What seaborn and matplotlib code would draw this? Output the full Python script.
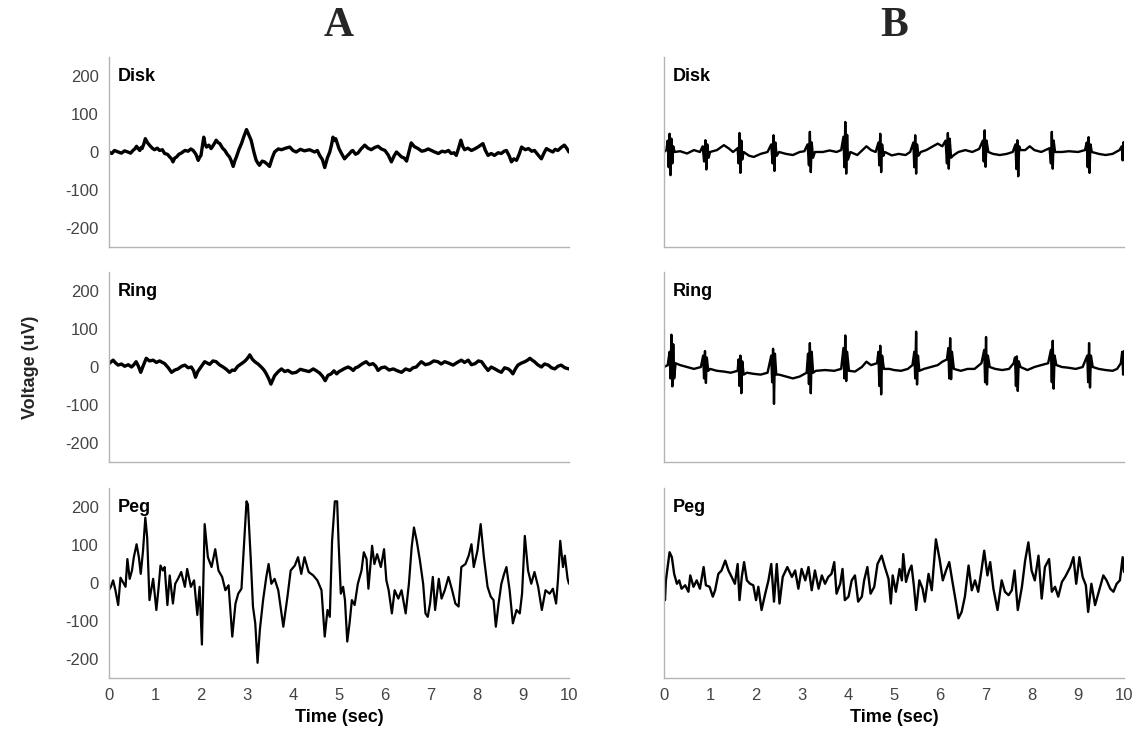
import matplotlib
matplotlib.use("Agg")
import matplotlib.pyplot as plt
import seaborn as sns
import numpy as np
import pandas as pd

# --- data (time in sec, voltage in uV) ---

a_disk_t = [0, .06, .12, .2, .27, .34, .41, .47, .52, .56, .6, .64, .67, .7, .72, .76, .79, .84, .88, .94,
            .99, 1.05, 1.1, 1.16, 1.21, 1.27, 1.32, 1.36, 1.39, 1.43, 1.47, 1.52, 1.57, 1.65, 1.72, 1.78,
            1.83, 1.89, 1.94, 1.97, 2.0, 2.03, 2.06, 2.09, 2.12, 2.17, 2.22, 2.28, 2.33, 2.37, 2.41, 2.47,
            2.52, 2.57, 2.62, 2.66, 2.7, 2.74, 2.77, 2.83, 2.88, 2.93, 2.99, 3.04, 3.09, 3.15, 3.2, 3.24,
            3.27, 3.33, 3.38, 3.44, 3.49, 3.55, 3.6, 3.68, 3.75, 3.84, 3.93, 4.0, 4.07, 4.16, 4.25, 4.36,
            4.47, 4.53, 4.58, 4.64, 4.69, 4.75, 4.8, 4.84, 4.87, 4.9, 4.93, 4.97, 5.0, 5.06, 5.12, 5.18,
            5.23, 5.27, 5.3, 5.36, 5.41, 5.48, 5.56, 5.63, 5.7, 5.78, 5.85, 5.92, 6.0, 6.07, 6.14, 6.2,
            6.25, 6.3, 6.36, 6.42, 6.47, 6.52, 6.57, 6.64, 6.72, 6.8, 6.87, 6.94, 7.01, 7.08, 7.16, 7.24,
            7.31, 7.38, 7.44, 7.5, 7.55, 7.6, 7.65, 7.69, 7.73, 7.8, 7.88, 7.95, 8.02, 8.08, 8.13, 8.18,
            8.24, 8.31, 8.38, 8.46, 8.53, 8.59, 8.64, 8.7, 8.75, 8.8, 8.86, 8.92, 8.97, 9.05, 9.12, 9.19,
            9.25, 9.33, 9.4, 9.46, 9.51, 9.58, 9.65, 9.7, 9.76, 9.83, 9.9, 9.95, 10.0]
a_disk_v = [0, -4, 4, 0, -3, 3, 0, -3, 4, 8, 15, 8, 4, 12, 9, 22, 35, 24, 18, 10,
            6, 10, 4, 6, -4, -6, -13, -18, -26, -16, -13, -6, -3, 4, 2, 8,
            4, -6, -22, -14, -9, 15, 39, 20, 13, 18, 9, 20, 31, 25, 22, 10,
            4, -6, -13, -24, -38, -22, -13, 8, 22, 40, 59, 45, 31, 0, -22, -30,
            -35, -24, -26, -32, -38, -15, 0, 8, 6, 10, 13, 4, 0, 7, 3, 6,
            0, 4, -9, -20, -41, -15, 0, 20, 39, 30, 35, 20, 9, -5, -18, -10,
            -4, 2, 4, -6, -3, 8, 18, 10, 6, 12, 15, 8, 4, -8, -26, -10,
            0, -6, -13, -16, -24, 0, 24, 14, 9, 2, 4, 8, 4, 0, -4, 2,
            0, 4, -4, -2, -9, 10, 31, 15, 6, 10, 4, 8, 13, 18, 22, 5,
            -9, -4, -9, -2, -4, 2, 4, -10, -26, -18, -22, -5, 13, 6, 9, 2,
            4, -8, -18, -2, 9, 4, 0, 7, 4, 12, 18, 10, 0]

a_ring_t = [0, .05, .09, .15, .2, .27, .34, .42, .49, .54, .59, .64, .69, .75, .81, .88, .96, 1.03, 1.1,
            1.16, 1.21, 1.29, 1.36, 1.43, 1.5, 1.58, 1.65, 1.72, 1.79, 1.84, 1.88, 1.93, 1.97, 2.03, 2.08,
            2.14, 2.19, 2.26, 2.33, 2.4, 2.48, 2.55, 2.62, 2.68, 2.73, 2.8, 2.88, 2.94, 2.99, 3.03, 3.06,
            3.12, 3.17, 3.24, 3.31, 3.37, 3.42, 3.47, 3.52, 3.56, 3.6, 3.68, 3.75, 3.82, 3.89, 3.98, 4.07,
            4.16, 4.25, 4.35, 4.44, 4.51, 4.58, 4.64, 4.7, 4.76, 4.83, 4.89, 4.95, 5.0, 5.05, 5.12, 5.2,
            5.26, 5.31, 5.36, 5.41, 5.5, 5.59, 5.66, 5.74, 5.8, 5.85, 5.92, 6.0, 6.09, 6.18, 6.27, 6.36,
            6.45, 6.54, 6.61, 6.68, 6.74, 6.79, 6.88, 6.97, 7.06, 7.15, 7.22, 7.3, 7.39, 7.48, 7.57, 7.66,
            7.73, 7.81, 7.88, 7.96, 8.03, 8.1, 8.17, 8.24, 8.31, 8.39, 8.46, 8.53, 8.6, 8.68, 8.73, 8.78,
            8.84, 8.89, 8.96, 9.04, 9.1, 9.15, 9.2, 9.25, 9.32, 9.4, 9.47, 9.55, 9.62, 9.69, 9.76, 9.83,
            9.91, 10.0]
a_ring_v = [9, 14, 18, 10, 5, 8, 2, 6, 0, 6, 14, 2, -14, 5, 23, 16, 18, 12, 16,
            12, 9, -2, -14, -8, -5, 2, 5, -2, 0, -10, -27, -12, -5, 6, 14,
            10, 7, 16, 14, 6, 0, -6, -14, -8, -9, 2, 9, 14, 20, 26, 32,
            20, 14, 8, 0, -8, -18, -30, -45, -34, -23, -12, -5, -12, -9, -16, -14,
            -6, -9, -12, -5, -10, -16, -24, -36, -22, -18, -10, -18, -12, -9, -4, 0,
            -4, -9, -2, 0, 8, 14, 6, 9, 2, -9, -2, 0, -8, -5, -10, -14,
            -5, -9, -2, 0, 8, 14, 6, 9, 16, 14, 8, 14, 10, 5, 12, 18,
            12, 18, 6, 9, 16, 14, 2, -9, 0, -5, -10, -14, -2, -5, -10, -18,
            -4, 5, 10, 14, 18, 23, 18, 14, 6, 0, 8, 5, -2, -5, 2, 5,
            -2, -5]

a_peg_t = [0, .04, .09, .14, .2, .25, .3, .36, .4, .45, .5, .54, .6, .65, .69, .74, .79, .83, .88, .96, 1.03,
           1.08, 1.12, 1.17, 1.21, 1.27, 1.32, 1.39, 1.44, 1.5, 1.57, 1.65, 1.7, 1.78, 1.85, 1.92, 1.97, 2.02,
           2.08, 2.15, 2.23, 2.31, 2.38, 2.46, 2.53, 2.6, 2.68, 2.75, 2.81, 2.88, 2.94, 2.99, 3.02, 3.08, 3.13,
           3.18, 3.23, 3.28, 3.35, 3.42, 3.47, 3.53, 3.6, 3.68, 3.79, 3.88, 3.95, 4.04, 4.11, 4.18, 4.25, 4.34,
           4.44, 4.53, 4.62, 4.69, 4.75, 4.8, 4.85, 4.91, 4.96, 4.99, 5.04, 5.09, 5.13, 5.18, 5.23, 5.28, 5.34,
           5.41, 5.49, 5.54, 5.6, 5.64, 5.72, 5.77, 5.83, 5.91, 5.98, 6.03, 6.08, 6.15, 6.21, 6.29, 6.36, 6.45,
           6.52, 6.58, 6.63, 6.69, 6.76, 6.83, 6.88, 6.93, 6.98, 7.04, 7.09, 7.17, 7.23, 7.3, 7.38, 7.46, 7.53,
           7.6, 7.66, 7.75, 7.82, 7.88, 7.93, 8.01, 8.08, 8.15, 8.23, 8.3, 8.36, 8.41, 8.47, 8.53, 8.59, 8.64,
           8.71, 8.78, 8.86, 8.93, 8.98, 9.04, 9.11, 9.18, 9.25, 9.33, 9.41, 9.49, 9.58, 9.65, 9.72, 9.76, 9.81,
           9.87, 9.91, 9.97, 10.0]
a_peg_v = [-19, -10, 7, -19, -58, 14, 3, -10, 63, 11, 33, 68, 102, 68, 24, 85, 172, 120, -45, 11, -71,
           -10, 46, 33, 42, -58, 20, -54, -2, 11, 29, -10, 37, -10, 7, -84, -10, -162,
           155, 68, 42, 89, 33, 16, -19, -6, -141, -54, -28, -15, 111, 215, 207, 68, -62,
           -106, -210, -123, -45, 16, 50, -2, 11, -19, -115, -36, 33, 46, 68, 24, 68, 29,
           20, 7, -19, -141, -71, -89, 111, 215, 215, 111, -28, -10, -45, -154, -106, -45, -58,
           -2, 33, 81, 63, -15, 98, 50, 76, 42, 89, 7, -19, -80, -19, -41, -19, -80,
           -2, 94, 146, 111, 59, -2, -80, -89, -54, 16, -71, 11, -41, -19, 16, -19, -54,
           -62, 42, 50, 72, 102, 42, 85, 155, 68, -10, -36, -45, -115, -54, -2, 24, 42,
           -19, -106, -71, -80, -28, 124, 33, -2, 29, -10, -71, -19, -28, -15, -54, 7, 111,
           42, 72, 11, -2]

b_disk_t = [0, .05, .08, .1, .12, .14, .16, .18, .2, .23, .35, .5, .65, .78, .84, .87, .9, .92, .94, .97, 1.0,
            1.15, 1.3, 1.4, 1.5, 1.6, 1.62, 1.64, 1.66, 1.68, 1.7, 1.73, 1.85, 1.95, 2.1, 2.25, 2.33, 2.36,
            2.38, 2.4, 2.42, 2.45, 2.5, 2.65, 2.8, 2.95, 3.05, 3.12, 3.15, 3.17, 3.19, 3.21, 3.24, 3.28, 3.45,
            3.6, 3.75, 3.85, 3.9, 3.92, 3.94, 3.96, 3.98, 4.0, 4.05, 4.2, 4.4, 4.5, 4.6, 4.66, 4.68, 4.7, 4.72,
            4.74, 4.77, 4.8, 4.95, 5.1, 5.25, 5.35, 5.42, 5.44, 5.46, 5.48, 5.5, 5.53, 5.58, 5.7, 5.85, 5.95,
            6.05, 6.12, 6.15, 6.17, 6.19, 6.21, 6.24, 6.3, 6.4, 6.55, 6.7, 6.85, 6.93, 6.95, 6.97, 6.99, 7.01,
            7.05, 7.15, 7.3, 7.45, 7.58, 7.64, 7.66, 7.68, 7.7, 7.72, 7.75, 7.85, 7.95, 8.05, 8.2, 8.38, 8.41,
            8.43, 8.45, 8.47, 8.5, 8.65, 8.8, 9.0, 9.15, 9.19, 9.21, 9.23, 9.25, 9.27, 9.3, 9.45, 9.6, 9.75,
            9.9, 9.95, 9.97, 9.99, 10.0]
b_disk_v = [0, 5, 30, -40, 48, -61, 35, -30, 15, 0, 2, -4, 5, 0, 15, -25, 31, -46, 20, -15, 0,
            5, 18, 10, 0, 10, -30, 50, -55, 30, -20, 0, -10, -13, -5, 0, 20, -30,
            44, -50, 25, -10, 0, -5, -8, 0, 2, 20, -35, 53, -53, 25, -15, 0, 0,
            4, 0, 5, 40, -40, 79, -57, 45, -20, 0, -8, 15, 5, 0, 25, -35, 48, -53,
            20, -10, 0, -9, -5, -8, 0, 25, -40, 44, -57, 20, -10, 0, 5, 15, 22,
            15, 30, -30, 50, -44, 35, -15, -8, 0, 5, 0, 8, 30, -25, 57, -39, 30,
            0, -5, -8, -5, 0, 20, -45, 31, -64, 15, 5, 5, 15, 5, 0, 10, -30,
            53, -44, 30, 0, 0, 2, 0, 5, 25, -40, 39, -55, 20, 0, -5, -8, -5,
            5, 15, -22, 26, 10]

b_ring_t = [0, .08, .12, .14, .16, .18, .2, .22, .25, .35, .5, .65, .8, .85, .87, .89, .91, .93, .96, 1.0,
            1.15, 1.3, 1.45, 1.6, 1.62, 1.64, 1.66, 1.68, 1.7, 1.73, 1.8, 1.95, 2.1, 2.25, 2.33, 2.35, 2.37,
            2.39, 2.41, 2.44, 2.5, 2.65, 2.8, 2.95, 3.1, 3.13, 3.15, 3.17, 3.19, 3.21, 3.24, 3.3, 3.5, 3.7,
            3.85, 3.9, 3.92, 3.94, 3.96, 3.98, 4.02, 4.15, 4.3, 4.4, 4.5, 4.63, 4.66, 4.68, 4.7, 4.72, 4.74,
            4.78, 4.9, 5.0, 5.15, 5.3, 5.4, 5.44, 5.46, 5.48, 5.5, 5.52, 5.55, 5.65, 5.8, 5.95, 6.05, 6.15,
            6.18, 6.2, 6.22, 6.24, 6.26, 6.3, 6.45, 6.6, 6.75, 6.9, 6.96, 6.98, 7.0, 7.02, 7.04, 7.08, 7.2,
            7.35, 7.5, 7.6, 7.63, 7.65, 7.67, 7.69, 7.71, 7.75, 7.9, 8.05, 8.2, 8.35, 8.41, 8.43, 8.45, 8.47,
            8.49, 8.53, 8.65, 8.8, 8.95, 9.1, 9.2, 9.22, 9.24, 9.26, 9.28, 9.32, 9.45, 9.6, 9.75, 9.85, 9.93,
            9.96, 9.98, 10.0]
b_ring_v = [0, 5, 40, -30, 85, -51, 60, -30, 10, 5, 0, -5, 0, 30, -30, 42, -42, 25, -10, -5,
            -10, -12, -15, -10, 20, -50, 30, -69, 15, -20, -15, -18, -20, -15, 30, -40, 48,
            -97, 35, -20, -20, -25, -30, -25, -15, 35, -45, 63, -69, 40, -15, -10, -8, -10,
            -5, 50, -30, 83, -37, 40, -10, -12, 0, 14, 5, 10, 40, -50, 56, -72, 30,
            -5, -5, -8, -10, -5, 5, 40, -30, 93, -46, 30, -10, -5, 0, 5, 14, 20,
            50, -30, 76, -32, 40, -5, -10, -5, -5, 10, 45, -40, 79, -46, 30, 0, -5,
            -8, -5, 10, 25, -50, 28, -63, 15, 0, -8, 0, 5, 10, 45, -40, 69, -57,
            30, 5, 0, -2, -5, 0, 30, -40, 63, -54, 30, 0, -5, -8, -10, -5, 10,
            40, -20, 42]

b_peg_t = [0, .02, .04, .12, .17, .22, .28, .33, .38, .46, .53, .57, .64, .71, .78, .86, .91, .99, 1.06, 1.11,
           1.18, 1.25, 1.33, 1.4, 1.47, 1.54, 1.6, 1.64, 1.69, 1.74, 1.8, 1.87, 1.94, 2.0, 2.05, 2.12, 2.2,
           2.27, 2.33, 2.39, 2.45, 2.51, 2.58, 2.68, 2.78, 2.85, 2.92, 2.99, 3.07, 3.14, 3.21, 3.28, 3.36,
           3.43, 3.5, 3.57, 3.64, 3.7, 3.75, 3.83, 3.88, 3.93, 4.01, 4.08, 4.15, 4.22, 4.3, 4.35, 4.42, 4.49,
           4.57, 4.64, 4.73, 4.8, 4.88, 4.93, 4.97, 5.04, 5.12, 5.17, 5.2, 5.26, 5.33, 5.38, 5.43, 5.48, 5.55,
           5.62, 5.67, 5.75, 5.82, 5.91, 5.99, 6.06, 6.13, 6.2, 6.27, 6.35, 6.4, 6.47, 6.54, 6.62, 6.69, 6.76,
           6.83, 6.9, 6.96, 7.03, 7.09, 7.16, 7.25, 7.34, 7.41, 7.49, 7.56, 7.62, 7.69, 7.78, 7.85, 7.92, 7.99,
           8.06, 8.14, 8.21, 8.28, 8.37, 8.43, 8.5, 8.57, 8.65, 8.72, 8.83, 8.9, 8.96, 9.03, 9.1, 9.17, 9.22,
           9.29, 9.37, 9.46, 9.55, 9.62, 9.7, 9.77, 9.84, 9.91, 9.97, 10.0]
b_peg_v = [-2, -45, 7, 81, 68, 24, -2, 7, -15, -6, -23, 20, -10, 7, -15, 42, -6, -10, -36, -19,
           24, 33, 59, 33, 16, -2, 50, -45, 16, 55, 7, -2, -6, -45, -10, -71, -28,
           7, 50, -49, 50, -54, 16, 42, 16, 33, -15, 37, 7, 42, -19, 33, -15,
           20, -2, 16, 24, 55, -28, -2, 37, -45, -36, 7, 20, -49, -36, 7, 42, -28,
           -10, 50, 72, 42, 11, -54, 20, -23, 37, 7, 76, 3, 33, 46, -6, -71, 7,
           -15, -49, 24, -19, 115, 63, 7, 33, 55, 3, -54, -93, -76, -36, 46, -19, 7,
           -23, 33, 85, 20, 55, -15, -71, 7, -23, -32, -19, 33, -71, -10, 59, 107, 33,
           7, 72, -41, 42, 63, -23, -10, -36, 3, 16, 42, 68, -2, 68, 16, -6, -76,
           -2, -58, -19, 20, 7, -15, -23, -2, 7, 68, 29]

traces = [
    ("Disk", a_disk_t, a_disk_v, b_disk_t, b_disk_v),
    ("Ring", a_ring_t, a_ring_v, b_ring_t, b_ring_v),
    ("Peg", a_peg_t, a_peg_v, b_peg_t, b_peg_v),
]
yticks = [-200, -100, 0, 100, 200]
xticks = list(range(0, 11))

sns.set_theme(style="white")
plt.rcParams["font.family"] = ["Liberation Sans", "DejaVu Sans"]
plt.rcParams["axes.unicode_minus"] = False

fig = plt.figure(figsize=(11.4, 7.5), dpi=100)

lefts = [0.0956, 0.5825]
bottoms = [0.6707, 0.384, 0.096]
w, h = 0.4035, 0.2533
spine_col = "#b4b4b4"
tick_col = "#444444"

for r, (name, ta, va, tb, vb) in enumerate(traces):
    for c, (tt, vv) in enumerate([(ta, va), (tb, vb)]):
        ax = fig.add_axes([lefts[c], bottoms[r], w, h])
        df = pd.DataFrame({"t": tt, "v": vv})
        if c == 0 and r < 2:
            lw = 2.4
        elif c == 0:
            lw = 1.6
        else:
            lw = 1.7
        sns.lineplot(data=df, x="t", y="v", ax=ax, color="black", lw=lw, estimator=None)
        ax.set_xlim(0, 10)
        ax.set_ylim(-250, 250)
        ax.set_yticks(yticks)
        ax.set_xticks(xticks)
        ax.set_xlabel("")
        ax.set_ylabel("")
        for s in ["top", "right"]:
            ax.spines[s].set_visible(False)
        for s in ["left", "bottom"]:
            ax.spines[s].set_color(spine_col)
            ax.spines[s].set_linewidth(1.0)
        ax.tick_params(axis="both", direction="out", length=4, width=1.0, color=spine_col,
                       labelcolor=tick_col, labelsize=12)
        if c == 1:
            ax.set_yticklabels([])
        if r < 2:
            ax.set_xticklabels([])
        else:
            ax.set_xlabel("Time (sec)", fontsize=13, fontweight="bold", color="black", labelpad=4)
        ax.text(0.02, 0.94, name, transform=ax.transAxes, fontsize=13, fontweight="bold",
                va="top", ha="left", color="black")

fig.text(0.297, 0.965, "A", fontsize=30, fontweight="bold", family="Liberation Serif",
         ha="center", va="center")
fig.text(0.784, 0.965, "B", fontsize=30, fontweight="bold", family="Liberation Serif",
         ha="center", va="center")
fig.text(0.027, 0.51, "Voltage (uV)", rotation=90, fontsize=13, fontweight="bold",
         ha="center", va="center")

fig.savefig("out.png", dpi=100)
